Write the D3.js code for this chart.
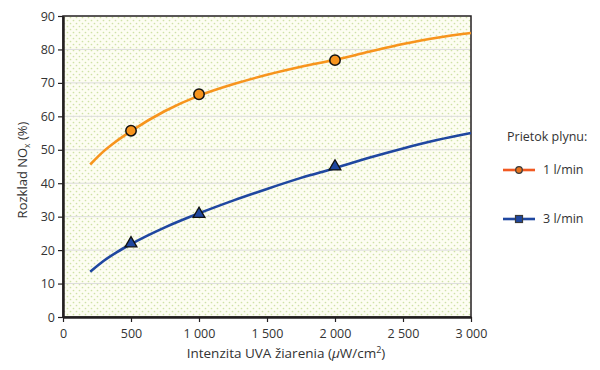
<!DOCTYPE html>
<html>
<head>
<meta charset="utf-8">
<script src="https://cdn.jsdelivr.net/npm/d3@7"></script>
<style>
  body { margin: 0; background: #fff; }
  text { font-family: "Open Sans", "Noto Sans", sans-serif; fill: #333; }
</style>
</head>
<body>
<div id="chart"></div>
<script>
// intensity values (uW/cm2)
var intensity = [200, 300, 400, 500, 750, 1000, 1250, 1500, 1750, 2000, 2250, 2500, 2750, 3000];
var flow1 = [45.6, 49.6, 52.8, 55.6, 61.6, 66.2, 69.6, 72.4, 74.8, 76.9, 79.3, 81.6, 83.5, 84.9];
var flow3 = [13.5, 16.8, 19.5, 21.8, 26.8, 31.0, 34.8, 38.3, 41.6, 44.5, 47.6, 50.4, 52.9, 55.0];

// measured points
var measX = [500, 1000, 2000];
var meas1 = [55.7, 66.6, 76.8];
var meas3 = [22.0, 30.8, 45.0];

var xTicks = [0, 500, 1000, 1500, 2000, 2500, 3000];
var yTicks = [0, 10, 20, 30, 40, 50, 60, 70, 80, 90];
var legendLabels = ["1 l/min", "3 l/min"];

var margin = {top: 16, right: 129, bottom: 53, left: 63},
    width = 600 - margin.left - margin.right,
    height = 370 - margin.top - margin.bottom;

var svg = d3.select("#chart").append("svg")
    .attr("width", 600)
    .attr("height", 370);

var defs = svg.append("defs");
var pat = defs.append("pattern")
    .attr("id", "dots")
    .attr("patternUnits", "userSpaceOnUse")
    .attr("width", 6).attr("height", 6);
pat.append("rect").attr("width", 6).attr("height", 6).attr("fill", "#fdfdf2");
pat.append("circle").attr("cx", 1.5).attr("cy", 1.5).attr("r", 0.85).attr("fill", "#cfe2a6");
pat.append("circle").attr("cx", 4.5).attr("cy", 4.5).attr("r", 0.85).attr("fill", "#cfe2a6");

var g = svg.append("g")
    .attr("transform", "translate(" + margin.left + "," + margin.top + ")");

var x = d3.scaleLinear().domain([0, 3000]).range([0, width]);
var y = d3.scaleLinear().domain([0, 90]).range([height, 0]);

g.append("rect")
    .attr("width", width).attr("height", height)
    .attr("fill", "url(#dots)");

// grid
g.append("g").selectAll("line")
    .data(yTicks.slice(1, -1))
    .enter().append("line")
    .attr("x1", 0).attr("x2", width)
    .attr("y1", function(d) { return y(d); })
    .attr("y2", function(d) { return y(d); })
    .attr("stroke", "#dcdcdc").attr("stroke-width", 1);

// frame
g.append("rect")
    .attr("width", width).attr("height", height)
    .attr("fill", "none").attr("stroke", "#231f20").attr("stroke-width", 1.5);

var fmt = function(d) { return d >= 1000 ? d3.format(",")(d).replace(",", " ") : d; };

var xAxis = g.append("g")
    .attr("transform", "translate(0," + height + ")")
    .call(d3.axisBottom(x).tickValues(xTicks).tickSize(5).tickSizeOuter(0).tickFormat(fmt));
var yAxis = g.append("g")
    .call(d3.axisLeft(y).tickValues(yTicks).tickSize(5).tickSizeOuter(0));

[xAxis, yAxis].forEach(function(a) {
    a.select(".domain").attr("stroke", "#231f20").attr("stroke-width", 2.5);
    a.selectAll(".tick line").attr("stroke", "#231f20").attr("stroke-width", 1.2);
    a.selectAll(".tick text").style("font-size", "12.5px").attr("fill", "#333");
});
xAxis.selectAll(".tick text").attr("dy", "1.05em");
yAxis.selectAll(".tick text").attr("x", -8);

var line = d3.line()
    .x(function(d) { return x(d[0]); })
    .y(function(d) { return y(d[1]); })
    .curve(d3.curveMonotoneX);

g.append("path")
    .datum(d3.zip(intensity, flow1))
    .attr("d", line)
    .attr("fill", "none").attr("stroke", "#f7941d").attr("stroke-width", 2.6);

g.append("path")
    .datum(d3.zip(intensity, flow3))
    .attr("d", line)
    .attr("fill", "none").attr("stroke", "#1f47a0").attr("stroke-width", 2.6);

g.append("g").selectAll("circle")
    .data(d3.zip(measX, meas1))
    .enter().append("circle")
    .attr("cx", function(d) { return x(d[0]); })
    .attr("cy", function(d) { return y(d[1]); })
    .attr("r", 5.2)
    .attr("fill", "#f7941d").attr("stroke", "#111").attr("stroke-width", 1.5);

g.append("g").selectAll("path")
    .data(d3.zip(measX, meas3))
    .enter().append("path")
    .attr("d", d3.symbol().type(d3.symbolTriangle).size(60))
    .attr("transform", function(d) { return "translate(" + x(d[0]) + "," + y(d[1]) + ")"; })
    .attr("fill", "#1f47a0").attr("stroke", "#111").attr("stroke-width", 1.3);

// axis titles
var xt = svg.append("text")
    .attr("x", 286).attr("y", 358)
    .attr("text-anchor", "middle").style("font-size", "13.5px");
xt.append("tspan").text("Intenzita UVA žiarenia (");
xt.append("tspan").style("font-style", "italic").text("μ");
xt.append("tspan").text("W/cm");
xt.append("tspan").attr("dy", -5).style("font-size", "9px").text("2");
xt.append("tspan").attr("dy", 5).text(")");

var yt = svg.append("text")
    .attr("transform", "translate(27,170) rotate(-90)")
    .attr("text-anchor", "middle").style("font-size", "13px");
yt.append("tspan").text("Rozklad NO");
yt.append("tspan").attr("dy", 3).style("font-size", "8.5px").text("x");
yt.append("tspan").attr("dy", -3).text(" (%)");

// legend
var leg = svg.append("g");
leg.append("text").attr("x", 507).attr("y", 141)
    .style("font-size", "12.5px").text("Prietok plynu:");

var legItems = leg.selectAll(".legend")
    .data(legendLabels)
    .enter().append("g")
    .attr("class", "legend")
    .attr("transform", function(d, i) { return "translate(0," + (170 + i * 49) + ")"; });

legItems.append("line")
    .attr("x1", 503).attr("x2", 535)
    .attr("stroke", function(d, i) { return i === 0 ? "#f15a22" : "#1f47a0"; })
    .attr("stroke-width", 2.6);
legItems.filter(function(d, i) { return i === 0; }).append("circle")
    .attr("cx", 519).attr("r", 3.3)
    .attr("fill", "#e8731e").attr("stroke", "#3a3a3a").attr("stroke-width", 1.2);
legItems.filter(function(d, i) { return i === 1; }).append("rect")
    .attr("x", 515.5).attr("y", -3.5).attr("width", 7).attr("height", 7)
    .attr("fill", "#1f47a0").attr("stroke", "#3a3a3a").attr("stroke-width", 1.2);
legItems.append("text")
    .attr("x", 543).attr("dy", "0.35em")
    .style("font-size", "12.5px")
    .text(function(d) { return d; });
</script>
</body>
</html>
